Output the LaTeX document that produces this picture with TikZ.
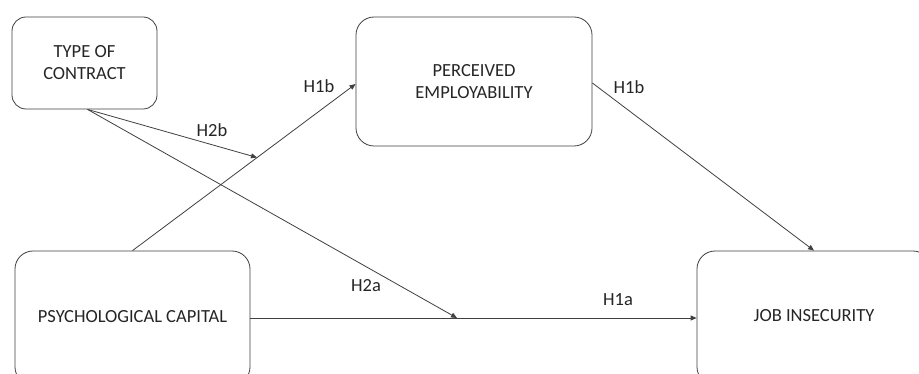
\documentclass[tikz,border=0pt]{standalone}
\usepackage{fontspec}
\setmainfont{Carlito}
\usetikzlibrary{arrows.meta}
\begin{document}
\begin{tikzpicture}[x=1pt,y=-1pt,
  box/.style={draw=black!75,line width=0.8pt,rounded corners=18pt,align=center,font=\fontsize{18.5}{22}\selectfont,text=black!85,inner sep=0pt},
  conn/.style={draw=black!75,line width=0.8pt},
  arr/.style={conn,-{Triangle[length=6pt,width=5pt]}},
  lbl/.style={font=\fontsize{18.5}{22}\selectfont,text=black!85,inner sep=0pt}]
\useasboundingbox (0,0) rectangle (919,374);
\clip (0,0) rectangle (919,374);
\fill[white] (0,0) rectangle (919,374);
\node[box,rounded corners=14pt,minimum width=145pt,minimum height=92pt] (type) at (84.5,63) {TYPE OF\\CONTRACT};
\node[box,minimum width=236pt,minimum height=129pt] (perc) at (474,81.5) {PERCEIVED\\EMPLOYABILITY};
\node[box,minimum width=235pt,minimum height=134pt] (psy) at (132.5,318) {};
\node[lbl] (psyt) at (132.5,317) {PSYCHOLOGICAL CAPITAL};
\node[box,minimum width=234pt,minimum height=134pt] (job) at (814,318) {};
\node[lbl] (jobt) at (814,316) {JOB INSECURITY};
\coordinate (m1) at (257,157.5);
\coordinate (m2) at (457,318);
\draw[arr] (psy.north) -- ([yshift=-2.5pt]perc.west);
\draw[arr] ([xshift=3pt]type.south) -- (m1);
\draw[arr] ([xshift=3pt]type.south) -- (m2);
\draw[arr] ([yshift=-1.5pt]perc.east) -- (job.north);
\draw[arr] (psy.east) -- (job.west);
\node[lbl] (h2b) at (212,130) {H2b};
\node[lbl] (h1b1) at (319,86) {H1b};
\node[lbl] (h1b2) at (629,87) {H1b};
\node[lbl] (h2a) at (366,286) {H2a};
\node[lbl] (h1a) at (618,300) {H1a};
\end{tikzpicture}
\end{document}
